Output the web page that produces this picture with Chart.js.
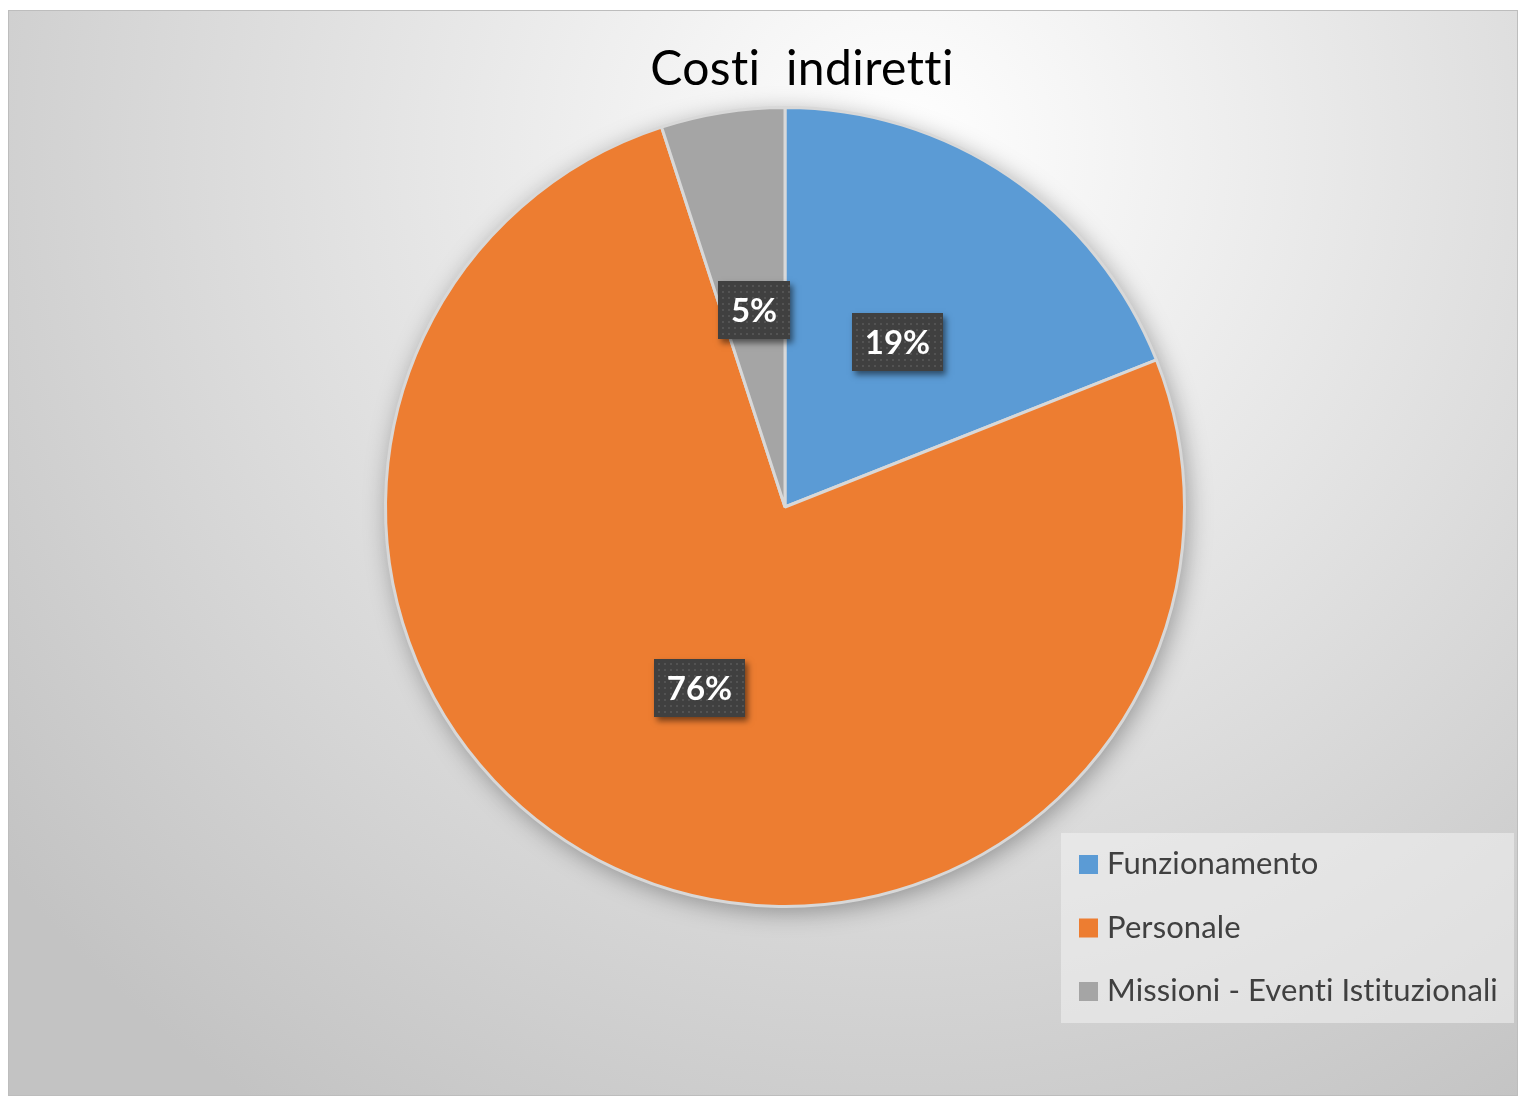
<!DOCTYPE html>
<html>
<head>
<meta charset="utf-8">
<script src="https://cdn.jsdelivr.net/npm/chart.js@4"></script>
<style>
    html, body { margin: 0; padding: 0; background: #fff; }
    canvas { display: block; }
</style>
</head>
<body>
<canvas id="chart" width="1519" height="1097"></canvas>
<script>
const chartTitle = 'Costi  indiretti';
const categories = ['Funzionamento', 'Personale', 'Missioni - Eventi Istituzionali'];
const percentages = [19, 76, 5];
const sliceColors = ['#5B9BD5', '#ED7D31', '#A5A5A5'];

const FONT = 'Lato, "Open Sans", sans-serif';

// frame + gradient background + title
const backgroundPlugin = {
    id: 'background',
    beforeDraw(chart) {
        const { ctx, width, height } = chart;
        ctx.save();
        ctx.fillStyle = '#ffffff';
        ctx.fillRect(0, 0, width, height);
        const x0 = 8, y0 = 10, x1 = 1518, y1 = 1096;
        const g = ctx.createRadialGradient(900, 150, 0, 900, 150, 1150);
        g.addColorStop(0, '#ffffff');
        g.addColorStop(0.55, '#dedede');
        g.addColorStop(1, '#c3c3c3');
        ctx.fillStyle = g;
        ctx.fillRect(x0, y0, x1 - x0, y1 - y0);
        ctx.strokeStyle = '#bdbdbd';
        ctx.lineWidth = 1;
        ctx.strokeRect(x0 + 0.5, y0 + 0.5, x1 - x0 - 1, y1 - y0 - 1);

        ctx.fillStyle = '#000000';
        ctx.font = '48px ' + FONT;
        ctx.letterSpacing = '0.4px'; // keeps "tt"/"ti" from turning into ligatures
        ctx.textAlign = 'center';
        ctx.textBaseline = 'middle';
        ctx.fillText(chartTitle, 802, 70);
        ctx.restore();
    },
    beforeDatasetsDraw(chart) {
        // soft shadow under the whole pie
        const arc = chart.getDatasetMeta(0).data[0];
        const ctx = chart.ctx;
        ctx.save();
        ctx.shadowColor = 'rgba(0,0,0,0.35)';
        ctx.shadowBlur = 24;
        ctx.shadowOffsetX = 3;
        ctx.shadowOffsetY = 5;
        ctx.beginPath();
        ctx.arc(arc.x, arc.y, arc.outerRadius, 0, Math.PI * 2);
        ctx.fillStyle = '#d0d0d0';
        ctx.fill();
        ctx.restore();
    }
};

// dark boxed percentage labels
const labelPlugin = {
    id: 'boxLabels',
    afterDatasetsDraw(chart) {
        const ctx = chart.ctx;
        const meta = chart.getDatasetMeta(0);
        meta.data.forEach((arc, i) => {
            const { x, y } = arc.getCenterPoint();
            const text = percentages[i] + '%';
            ctx.save();
            ctx.font = 'bold 33px ' + FONT;
            const w = Math.round(ctx.measureText(text).width + 26);
            const h = 58;
            const bx = Math.round(x - w / 2), by = Math.round(y - h / 2);
            ctx.shadowColor = 'rgba(0,0,0,0.5)';
            ctx.shadowBlur = 6;
            ctx.shadowOffsetX = 3;
            ctx.shadowOffsetY = 4;
            ctx.fillStyle = '#404040';
            ctx.fillRect(bx, by, w, h);
            ctx.shadowColor = 'transparent';
            ctx.fillStyle = 'rgba(255,255,255,0.10)';
            for (let dy = 4; dy < h; dy += 6) {
                for (let dx = 4; dx < w; dx += 6) {
                    ctx.fillRect(bx + dx, by + dy, 2, 2);
                }
            }
            ctx.fillStyle = '#ffffff';
            ctx.textAlign = 'center';
            ctx.textBaseline = 'middle';
            ctx.fillText(text, bx + w / 2, by + h / 2 + 1);
            ctx.restore();
        });
    }
};

// legend box in the lower right corner
const legendPlugin = {
    id: 'boxLegend',
    afterDraw(chart) {
        const ctx = chart.ctx;
        ctx.save();
        ctx.fillStyle = 'rgba(242,242,242,0.55)';
        ctx.fillRect(1061, 833, 453, 190);
        ctx.font = '31px ' + FONT;
        ctx.letterSpacing = '0.1px';
        ctx.textBaseline = 'middle';
        categories.forEach((label, i) => {
            const cy = 864 + i * 63.5;
            ctx.fillStyle = sliceColors[i];
            ctx.fillRect(1079, cy - 9, 19, 19);
            ctx.fillStyle = '#404040';
            ctx.fillText(label, 1107, cy);
        });
        ctx.restore();
    }
};

new Chart(document.getElementById('chart'), {
    type: 'pie',
    data: {
        labels: categories,
        datasets: [{
            data: percentages,
            backgroundColor: sliceColors,
            borderColor: '#d8d8d8',
            borderWidth: 3
        }]
    },
    options: {
        responsive: false,
        animation: false,
        layout: {
            padding: { left: 384, right: 333, top: 106, bottom: 189 }
        },
        plugins: {
            legend: { display: false },
            title: { display: false },
            tooltip: { enabled: false }
        }
    },
    plugins: [backgroundPlugin, labelPlugin, legendPlugin]
});
</script>
</body>
</html>
